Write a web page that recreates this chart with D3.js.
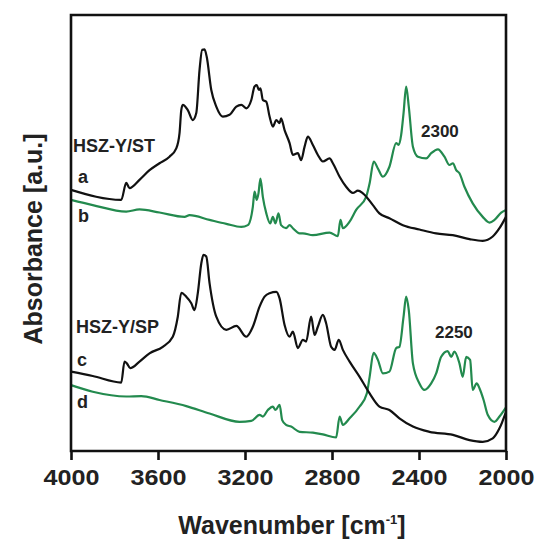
<!DOCTYPE html>
<html>
<head>
<meta charset="utf-8">
<script src="https://cdn.jsdelivr.net/npm/d3@7"></script>
<style>
	body { margin: 0; background: white; }
	text { font-family: "Liberation Sans", Arial, sans-serif; font-weight: bold; fill: #222; }
</style>
</head>
<body>
<div id="app"></div>
<script>
// FTIR spectra, two samples, each with a black (a/c) and green (b/d) trace.

var ticks = [4000, 3600, 3200, 2800, 2400, 2000];

var waveA = [4000,3769,3746,3731,3685,3639,3593,3547,3516,3501,3493,3486,3463,3440,3424,3409,3397,3386,3376,3355,3332,3302,3271,3240,3217,3194,3171,3156,3146,3136,3129,3118,3102,3087,3072,3056,3041,3034,3018,2995,2980,2957,2942,2926,2911,2888,2865,2842,2811,2796,2765,2735,2704,2681,2658,2612,2582,2536,2474,2398,2321,2245,2168,2107,2061,2030,2000];
var absA = [59.9,57.6,61.5,60.3,62.2,64.4,66.0,67.5,69.4,72.9,78.2,79.4,78.2,75.9,77.5,87.4,92.0,92.1,90.4,82.8,79.0,76.7,77.1,79.0,79.4,78.6,80.5,83.6,83.9,82.8,83.2,80.5,80.1,76.7,74.4,75.9,75.2,76.3,73.6,70.6,67.9,68.3,66.7,69.8,72.1,70.2,67.9,66.4,67.1,66.0,62.9,60.6,59.2,59.7,59.1,56.4,54.5,53.4,51.8,50.8,49.9,49.5,48.6,48.2,49.2,51.1,53.7];

var waveB = [4000,3900,3746,3685,3593,3478,3455,3363,3286,3217,3187,3164,3156,3146,3138,3129,3118,3102,3084,3072,3060,3046,3034,3011,2995,2980,2949,2934,2888,2811,2773,2761,2750,2719,2689,2643,2627,2608,2589,2566,2536,2505,2493,2482,2471,2459,2447,2428,2405,2367,2344,2313,2283,2260,2244,2229,2214,2191,2153,2107,2076,2053,2022,2000];
var absB = [57.6,56.4,54.9,55.4,54.7,53.7,54.1,53.0,52.1,51.4,51.8,56.0,59.5,57.6,59.1,62.5,58.3,54.5,52.2,53.7,52.2,54.5,51.8,51.1,51.8,51.1,49.9,49.9,49.5,50.1,49.3,53.0,51.1,52.6,55.3,58.3,61.4,66.4,64.8,62.9,65.2,70.6,70.2,72.5,77.5,83.6,79.0,69.8,67.5,67.1,68.3,69.2,67.5,65.6,66.0,64.4,63.7,60.6,56.8,53.7,52.4,53.0,54.7,55.3];

var waveC = [4000,3900,3769,3754,3743,3728,3685,3639,3578,3532,3509,3493,3470,3447,3432,3417,3401,3391,3378,3363,3332,3286,3240,3194,3164,3133,3110,3087,3056,3041,3018,2995,2980,2957,2934,2919,2896,2880,2865,2842,2827,2804,2788,2769,2750,2719,2673,2627,2582,2536,2490,2428,2352,2244,2168,2107,2061,2030,2000];
var absC = [18.2,17.2,15.7,20.5,20.1,19.0,20.5,22.4,23.9,26.2,30.8,36.3,35.4,33.9,32.3,36.2,43.0,45.0,44.6,38.5,30.8,27.8,28.7,26.2,28.5,33.1,35.4,36.2,36.5,35.0,28.9,26.2,27.4,23.6,25.5,25.1,30.8,26.6,28.5,31.2,29.3,23.9,23.2,25.5,23.2,20.5,17.0,13.2,10.2,9.4,7.5,5.6,4.4,3.7,2.5,2.1,2.9,5.2,9.0];

var waveD = [4000,3900,3746,3677,3593,3470,3363,3225,3171,3133,3118,3095,3072,3060,3041,3029,3011,2988,2949,2888,2842,2781,2765,2750,2719,2673,2640,2627,2609,2589,2566,2536,2505,2490,2471,2459,2447,2428,2398,2375,2344,2321,2298,2268,2252,2237,2214,2199,2183,2165,2153,2135,2122,2103,2084,2053,2030,2000];
var absD = [15.1,13.6,12.5,12.6,11.7,10.3,8.6,6.7,6.9,8.3,7.9,9.4,10.2,9.4,10.6,7.1,6.0,5.6,4.4,4.2,3.8,3.1,7.9,6.0,7.5,10.2,13.2,17.0,22.5,20.9,17.8,18.2,23.6,23.9,30.8,35.4,32.3,20.1,15.5,14.0,15.5,17.8,21.6,22.9,21.6,22.8,20.1,17.0,21.6,20.9,14.0,15.5,14.4,11.7,8.3,6.7,7.9,10.0];

var black = "#111", green = "#238a4e";
var width = 537, height = 540;
var x0 = 71, x1 = 506, yTop = 15, yBot = 451;

var vis = d3.select("#app").append("svg")
	.attr("width", width).attr("height", height);

var x = d3.scaleLinear().domain([4000, 2000]).range([x0, x1]);
var y = d3.scaleLinear().domain([0, 100]).range([yBot, yTop]);

var line = d3.line()
	.x(function (d) {return x(d[0]);})
	.y(function (d) {return y(d[1]);})
	.curve(d3.curveMonotoneX);

var series = [[waveB, absB, green], [waveD, absD, green], [waveA, absA, black], [waveC, absC, black]];
series.forEach(function (s) {
	vis.append("path")
		.datum(d3.zip(s[0], s[1]))
		.attr("d", line)
		.attr("fill", "none")
		.attr("stroke", s[2])
		.attr("stroke-width", 2.2)
		.attr("stroke-linejoin", "round");
});

// Frame: open box, ticks only on the bottom.
vis.append("path")
	.attr("d", "M" + x0 + "," + yBot + "V" + yTop + "H" + x1 + "V" + yBot + "Z")
	.attr("fill", "none").attr("stroke", black).attr("stroke-width", 2.6);

var gx = vis.append("g")
	.attr("transform", "translate(0," + yBot + ")")
	.call(d3.axisBottom(x).tickValues(ticks).tickSize(9).tickSizeOuter(0).tickPadding(9).tickFormat(d3.format("d")));
gx.select(".domain").remove();
gx.selectAll(".tick line").attr("stroke", black).attr("stroke-width", 2.6);
gx.selectAll(".tick text")
	.style("font-size", "22px").attr("fill", "#222")
	.attr("textLength", 56).attr("lengthAdjust", "spacingAndGlyphs");

// Axis titles
var xt = vis.append("text")
	.attr("x", 292).attr("y", 534)
	.attr("text-anchor", "middle")
	.style("font-size", "25px");
xt.append("tspan").text("Wavenumber [cm");
xt.append("tspan").attr("dy", -10).style("font-size", "13px").text("-1");
xt.append("tspan").attr("dy", 10).text("]");

vis.append("text")
	.attr("transform", "translate(42,239) rotate(-90)")
	.attr("text-anchor", "middle")
	.style("font-size", "25px")
	.text("Absorbance [a.u.]");

// Curve labels
var labels = [
	["HSZ-Y/ST", 73, 152, 18], ["a", 78, 183, 18], ["b", 78, 222, 18],
	["HSZ-Y/SP", 76, 333, 18], ["c", 77, 366, 18], ["d", 77, 408, 18],
	["2300", 421, 137, 17], ["2250", 435, 338, 17]];
labels.forEach(function (l) {
	vis.append("text")
		.attr("x", l[1]).attr("y", l[2])
		.style("font-size", l[3] + "px")
		.text(l[0]);
});
</script>
</body>
</html>
